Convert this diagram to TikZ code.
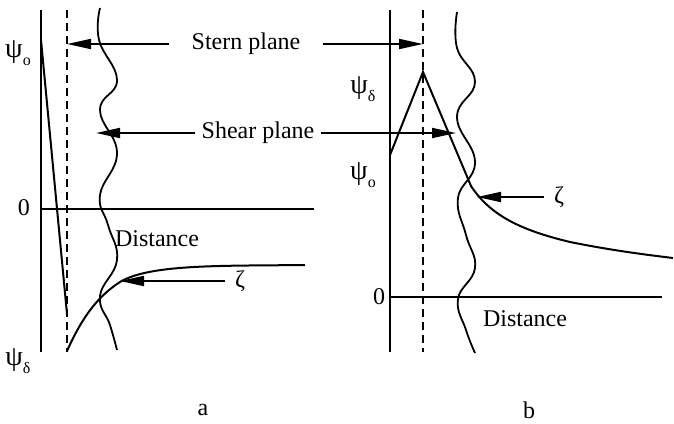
\documentclass[tikz,border=0pt]{standalone}
\usepackage{fontspec}
\setmainfont{Liberation Serif}
\usetikzlibrary{arrows.meta}
\newcommand{\psisub}[1]{ψ\raisebox{-4pt}{\fontsize{8}{9}\selectfont #1}}

\begin{document}
\begin{tikzpicture}[
    x=0.5pt, y=-0.5pt,
    >={Triangle[length=12pt,width=5pt]},
    axisline/.style={draw=black, line width=0.9pt},
    planeline/.style={draw=black, line width=0.6pt, dash pattern=on 4pt off 2.5pt},
    waveline/.style={draw=black, line width=0.9pt},
    potline/.style={draw=black, line width=1pt},
    pointer/.style={->, draw=black, line width=0.9pt},
    lab/.style={font=\fontsize{12}{14}\selectfont, inner sep=1pt},
    psilab/.style={font=\fontsize{14}{16}\selectfont, inner sep=1pt},
    planelab/.style={font=\fontsize{12}{14}\selectfont, inner ysep=1pt},
  ]
  \useasboundingbox (0,0) rectangle (674,423);

  % ================================================================
  %  PANEL a
  % ================================================================
  % --- axes + planes ---
  \coordinate (aTop) at (41,10);
  \coordinate (aBot) at (41,352);
  \coordinate (aZero) at (41,209);
  \coordinate (aEnd) at (314,209);
  \coordinate (aDashTop) at (67,10);
  \coordinate (aDashBot) at (67,352);
  \draw[axisline] (aTop) -- (aBot);
  \draw[axisline] (aZero) -- (aEnd);
  \draw[planeline] (aDashTop) -- (aDashBot);

  % --- shear plane (wavy) ---
  \draw[waveline] plot[smooth, tension=0.75] coordinates
    {(100,8) (99,40) (117,80) (100,110) (117,153) (100,195) (108,225)
     (117,260) (100,296) (110,325) (117,350)};

  % --- potential ---
  \coordinate (aPsiStart) at (41,40);
  \coordinate (aPsiEnd) at (67,314);
  \draw[potline] (aPsiStart) -- (aPsiEnd);
  \draw[potline] (67,351) .. controls (80,322) and (95,298) .. (120,282)
    .. controls (150,264) and (220,266) .. (305,265);

  % --- labels ---
  \node[psilab] (aPsiO) at (18,53) {\psisub{o}};
  \node[lab] (aZeroLab) at (24,208) {0};
  \node[psilab] (aPsiD) at (18,361) {\psisub{δ}};
  \node[lab] (aDist) at (157,239) {Distance};
  \node[lab, inner xsep=5pt] (aZeta) at (240,281) {ζ};
  \coordinate (aZetaTip) at (120,281);
  \draw[pointer] (aZeta.west) -- (aZetaTip);
  \node[lab] (aName) at (203,410) {a};

  % ================================================================
  %  PANEL b
  % ================================================================
  % --- axes + planes ---
  \coordinate (bTop) at (390,10);
  \coordinate (bBot) at (390,352);
  \coordinate (bZero) at (390,297);
  \coordinate (bEnd) at (662,297);
  \coordinate (bDashTop) at (423,10);
  \coordinate (bDashBot) at (423,352);
  \draw[axisline] (bTop) -- (bBot);
  \draw[axisline] (bZero) -- (bEnd);
  \draw[planeline] (bDashTop) -- (bDashBot);

  % --- shear plane (wavy) ---
  \draw[waveline] plot[smooth, tension=0.75] coordinates
    {(457,12) (457,48) (475,82) (457,117) (475,162) (458,198) (466,235)
     (475,268) (458,299) (466,330) (475,353)};

  % --- potential ---
  \coordinate (bPsiStart) at (390,155);
  \coordinate (bPeak) at (423,72);
  \coordinate (bKnee) at (471,186);
  \draw[potline] (bPsiStart) -- (bPeak) -- (bKnee)
    .. controls (490,215) and (520,230) .. (570,242)
    .. controls (610,250) and (640,254) .. (673,258);

  % --- labels ---
  \node[psilab] (bPsiD) at (363,89) {\psisub{δ}};
  \node[psilab] (bPsiO) at (363,175) {\psisub{o}};
  \node[lab] (bZeroLab) at (379,297) {0};
  \node[lab] (bDist) at (525,319) {Distance};
  \node[lab, inner xsep=5pt] (bZeta) at (559,197) {ζ};
  \coordinate (bZetaTip) at (477,197);
  \draw[pointer] (bZeta.west) -- (bZetaTip);
  \node[lab] (bName) at (529,410) {b};

  % ================================================================
  %  PLANE LABELS (shared)
  % ================================================================
  \node[planelab, inner xsep=11pt] (stern) at (246,44) {Stern plane};
  \coordinate (aStern) at (67,44);
  \coordinate (bStern) at (423,44);
  \draw[pointer] (stern.west) -- (aStern);
  \draw[pointer] (stern.east) -- (bStern);

  \node[planelab, inner xsep=3pt] (shear) at (258,133) {Shear plane};
  \coordinate (aShear) at (96,133);
  \coordinate (bShear) at (456,133);
  \draw[pointer] (shear.west) -- (aShear);
  \draw[pointer] (shear.east) -- (bShear);

\end{tikzpicture}
\end{document}
